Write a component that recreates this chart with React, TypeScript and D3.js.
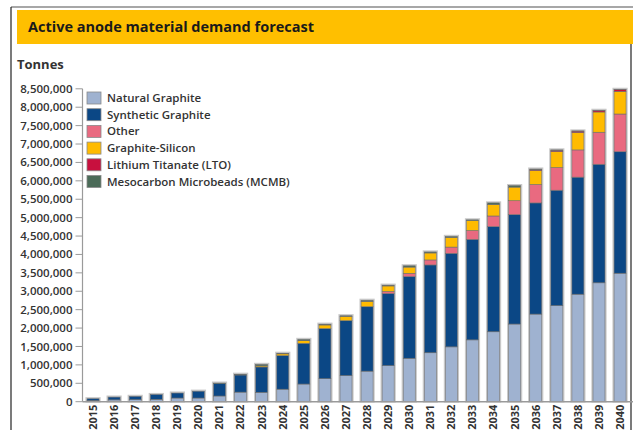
import React from 'react';
import * as d3 from 'd3';

const years = [
  '2015', '2016', '2017', '2018', '2019', '2020', '2021', '2022', '2023', '2024', '2025', '2026', '2027',
  '2028', '2029', '2030', '2031', '2032', '2033', '2034', '2035', '2036', '2037', '2038', '2039', '2040',
];

// tonnes
const naturalGraphite = [
  30000, 50000, 55000, 65000, 100000, 100000, 155000, 260000, 255000, 340000, 480000, 625000, 710000,
  830000, 980000, 1180000, 1330000, 1490000, 1680000, 1900000, 2110000, 2380000, 2610000, 2920000, 3230000, 3490000,
];
const syntheticGraphite = [
  50000, 75000, 90000, 130000, 135000, 185000, 335000, 465000, 688000, 910000, 1107000, 1360000, 1490000,
  1750000, 1955000, 2217000, 2385000, 2540000, 2730000, 2855000, 2970000, 3020000, 3135000, 3180000, 3220000, 3300000,
];
const other = [
  0, 0, 0, 0, 0, 0, 0, 0, 0, 0, 0, 0, 0,
  0, 60000, 90000, 136000, 170000, 240000, 290000, 380000, 500000, 615000, 740000, 870000, 1025000,
];
const graphiteSilicon = [
  0, 0, 0, 0, 0, 0, 0, 0, 30000, 50000, 70000, 100000, 120000,
  145000, 150000, 170000, 190000, 260000, 270000, 310000, 370000, 380000, 435000, 470000, 550000, 615000,
];
const lto = [
  0, 0, 0, 0, 0, 0, 0, 0, 0, 0, 0, 0, 0,
  0, 0, 0, 0, 0, 0, 0, 0, 25000, 35000, 40000, 40000, 50000,
];
const mcmb = [
  0, 0, 0, 0, 0, 0, 15000, 20000, 40000, 15000, 35000, 20000, 15000,
  30000, 20000, 35000, 27000, 30000, 20000, 45000, 40000, 15000, 10000, 5000, 5000, 5000,
];

const seriesNames = [
  'Natural Graphite', 'Synthetic Graphite', 'Other', 'Graphite-Silicon',
  'Lithium Titanate (LTO)', 'Mesocarbon Microbeads (MCMB)',
];
const seriesColors = ['#9fb2d0', '#0b4785', '#e96a80', '#ffbb00', '#c8103e', '#4b6b58'];
const yTicks = d3.range(0, 8500001, 500000);

const font = "'Open Sans', 'DejaVu Sans', sans-serif";

export default function App() {
  const W = 633;
  const H = 430;
  const left = 82.5;
  const right = 630.6;
  const top = 88.8;
  const bottom = 401.7;

  const x = d3.scaleBand<string>().domain(years).range([left, right]).paddingInner(0.43).paddingOuter(0.215);
  const y = d3.scaleLinear().domain([0, 8500000]).range([bottom, top]);

  const table = years.map((yr, i) => ({
    year: yr,
    s0: naturalGraphite[i],
    s1: syntheticGraphite[i],
    s2: other[i],
    s3: graphiteSilicon[i],
    s4: lto[i],
    s5: mcmb[i],
  }));
  const keys = ['s0', 's1', 's2', 's3', 's4', 's5'];
  const stacked = d3.stack<any>().keys(keys)(table);
  const totals = table.map((d) => keys.reduce((a, k) => a + d[k], 0));
  const fmt = d3.format(',');

  return (
    <svg width={W} height={H} style={{ display: 'block', position: 'absolute', left: 0, top: 0 }}>
      <rect x={0} y={0} width={W} height={H} fill="#fff" />
      {/* frame */}
      <line x1={11} y1={7} x2={W} y2={7} stroke="#8a8a8a" strokeWidth={1.5} />
      <line x1={11} y1={7} x2={11} y2={H} stroke="#222" strokeWidth={1.2} />
      <line x1={631} y1={44} x2={631} y2={H} stroke="#222" strokeWidth={1.2} />
      {/* title banner */}
      <rect x={17} y={10} width={W - 17} height={34} fill="#ffbf00" />
      <text x={28} y={32} fontFamily={font} fontWeight={700} fontSize={14.5} fill="#1a1a1a">
        Active anode material demand forecast
      </text>
      <text x={17} y={69} fontFamily={font} fontWeight={700} fontSize={13} fill="#333">
        Tonnes
      </text>

      {/* y axis */}
      <line x1={left} y1={top} x2={left} y2={bottom} stroke="#9a9a9a" strokeWidth={1.2} />
      {yTicks.map((t) => (
        <g key={t}>
          <line x1={left - 7} x2={left} y1={y(t)} y2={y(t)} stroke="#9a9a9a" strokeWidth={1} />
          <text x={left - 10} y={y(t)} dy="0.35em" textAnchor="end" fontFamily={font} fontWeight={600}
            fontSize={11.5} fill="#333">
            {fmt(t)}
          </text>
        </g>
      ))}

      {/* bars: halo, then segments */}
      {years.map((yr, i) => (
        <rect key={'h' + yr} x={x(yr)! - 0.8} y={y(totals[i]) - 0.8} width={x.bandwidth() + 1.6}
          height={bottom - y(totals[i]) + 0.8} fill="none" stroke="#c8c8c8" strokeWidth={1.6} />
      ))}
      {stacked.map((s, si) => (
        <g key={si} fill={seriesColors[si]}>
          {s.map((d, i) => {
            const h = y(d[0]) - y(d[1]);
            if (h <= 0) return null;
            return (
              <rect key={i} x={x(years[i])} y={y(d[1])} width={x.bandwidth()} height={h}
                stroke="#6e6e6e" strokeWidth={0.6} />
            );
          })}
        </g>
      ))}

      {/* x axis */}
      <line x1={left} y1={bottom} x2={W} y2={bottom} stroke="#9a9a9a" strokeWidth={1.5} />
      {years.map((yr) => {
        const cx = x(yr)! + x.bandwidth() / 2;
        return (
          <text key={yr} transform={`translate(${cx},${bottom + 3}) rotate(-90)`} dy="0.35em" textAnchor="end"
            fontFamily={font} fontWeight={700} fontSize={11} fill="#333">
            {yr}
          </text>
        );
      })}

      {/* legend */}
      {seriesNames.map((n, i) => (
        <g key={n} transform={`translate(87,${92 + i * 16.7})`}>
          <rect x={0} y={0} width={14} height={12} fill={seriesColors[i]} stroke="#8a8a8a" strokeWidth={0.8} />
          <text x={20} y={6} dy="0.35em" fontFamily={font} fontWeight={600} fontSize={11.5} fill="#333">
            {n}
          </text>
        </g>
      ))}
    </svg>
  );
}
